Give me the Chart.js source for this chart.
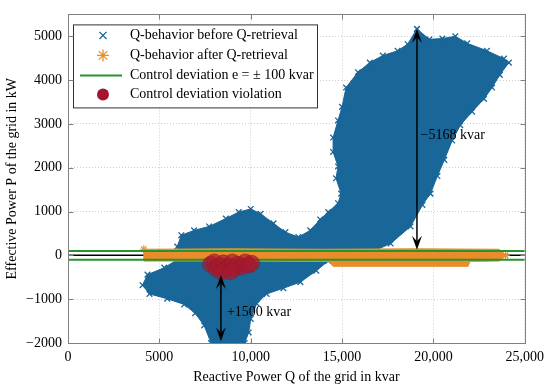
<!DOCTYPE html>
<html><head><meta charset="utf-8">
<script src="https://cdn.jsdelivr.net/npm/chart.js@4/dist/chart.umd.min.js"></script>
<style>html,body{margin:0;padding:0;background:#fff}</style>
</head><body>
<canvas id="c" width="550" height="390"></canvas>
<script>
// ---------- data ----------
const seriesNames = ['Q-behavior before Q-retrieval','Q-behavior after Q-retrieval','Control deviation e = \u00b1 100 kvar','Control deviation violation'];
// outline of the dense cloud of "before" points (kvar, kW)
const beforeQ = [19100,19780,20490,21200,21850,22930,23860,24130,23640,23210,22770,22120,21470,21030,20600,20220,19840,19400,18750,17660,16790,15050,14240,13590,12720,11790,10870,10330,10000,9890,9670,7830,7450,6960,6360,5430,4460,4080,4350,5270,5870,5980,6200,6900,7720,8640,9350,10000,10540,11250,11900,12610,13260,13800,14240,14780,14950,14670,14780,14510,14510,14780,15000,15220,15870,16520,17230,18040,18590,19100];
const beforeP = [5168,4930,4950,5000,4840,4670,4490,4400,4120,3830,3570,3280,2970,2620,2180,1810,1410,1150,660,270,110,0,-130,-350,-610,-750,-880,-1100,-1450,-1760,-2000,-2000,-1600,-1320,-1120,-990,-880,-680,-440,-280,-130,200,460,570,660,840,990,1060,950,730,530,420,570,820,990,1190,1410,1760,2030,2360,2690,3080,3390,3830,4180,4400,4560,4670,4820,5168];
// outline of the "after" band
const afterQ = [4150,9000,14000,19000,23600,23950,23600,22000,21900,18000,14500,14300,9000,4150,4150];
const afterP = [140,150,140,150,140,0,-130,-140,-250,-250,-250,-140,-130,-130,140];
const violationQ = [7800,8000,8100,8300,8500,8600,8800,9000,9100,9300,9500,9700,9900,10050,8400,8900];
const violationP = [-200,-150,-300,-230,-170,-320,-250,-150,-300,-200,-260,-150,-220,-180,-380,-370];
const deviationLimit = 100;
const xRange = [0, 25000];
const yRange = [-2000, 5500];
const xTickValues = [0,5000,10000,15000,20000,25000];
const xTickLabels = ['0','5000','10,000','15,000','20,000','25,000'];
const yTickValues = [-2000,-1000,0,1000,2000,3000,4000,5000];
const yTickLabels = ['\u22122000','\u22121000','0','1000','2000','3000','4000','5000'];
const arrowQ = [19100, 8370];
const arrowFromP = [5168, -1960];
const arrowToP = [130, -450];
const arrowTextQ = [19300, 8700];
const arrowTextP = [2740, -1300];
const arrowLabels = ['\u22125168 kvar', '+1500 kvar'];
const xTitle = 'Reactive Power Q of the grid in kvar';
const yTitle = 'Effective Power P of the grid in kW';

// ---------- styling ----------
const BLUE = '#196699', ORANGE = '#ea8c2c', GREEN = '#27932b', RED = '#a2142f';
const FONT = "'Liberation Serif','DejaVu Serif',serif";
const pts = (xs, ys) => xs.map((v, i) => ({x: v, y: ys[i]}));
// star markers only at the two ends of the band
const afterRadius = afterQ.map((q, i) => (i === 0 || i === 5) ? 4 : 0);

const datasets = [
  {label: seriesNames[3], data: pts(violationQ, violationP), order: 0, showLine: false,
   pointStyle: 'circle', pointRadius: 8, backgroundColor: 'rgba(165,25,45,0.7)', borderColor: 'rgba(150,20,40,0.5)', borderWidth: 1},
  {label: seriesNames[2], data: pts(xRange, [deviationLimit, deviationLimit]), order: 1, showLine: true,
   pointRadius: 0, borderColor: GREEN, borderWidth: 2, fill: false},
  {label: '_', data: pts(xRange, [-deviationLimit, -deviationLimit]), order: 1, showLine: true,
   pointRadius: 0, borderColor: GREEN, borderWidth: 2, fill: false},
  {label: seriesNames[1], data: pts(afterQ, afterP), order: 2, showLine: true, fill: 'shape',
   backgroundColor: ORANGE, borderColor: ORANGE, borderWidth: 1, pointStyle: 'star', pointRadius: afterRadius, pointBorderColor: ORANGE, pointBorderWidth: 1.2},
  {label: '_', data: pts(xRange, [0, 0]), order: 3, showLine: true, pointRadius: 0, borderColor: '#000', borderWidth: 1.5, fill: false},
  {label: seriesNames[0], data: pts(beforeQ, beforeP), order: 4, showLine: true, fill: 'shape',
   backgroundColor: BLUE, borderColor: BLUE, borderWidth: 1, pointStyle: 'crossRot', pointRadius: 4, pointBorderColor: BLUE, pointBorderWidth: 1.3}
];

function arrowHead(ctx, x, y, dir) { // dir: -1 up, +1 down
  const L = 14, W = 5;
  ctx.beginPath();
  ctx.moveTo(x, y);
  ctx.lineTo(x - W, y - dir * L);
  ctx.lineTo(x, y - dir * L * 0.6);
  ctx.lineTo(x + W, y - dir * L);
  ctx.closePath();
  ctx.fill();
}

const annotPlugin = {
  id: 'annot',
  afterDatasetsDraw(chart) {
    const {ctx, chartArea: a, scales: {x, y}} = chart;
    ctx.save();
    ctx.strokeStyle = '#000'; ctx.fillStyle = '#000'; ctx.lineWidth = 1.5;
    arrowQ.forEach((q, i) => {
      const px = x.getPixelForValue(q);
      const p1 = y.getPixelForValue(arrowFromP[i]), p2 = y.getPixelForValue(arrowToP[i]);
      const top = Math.min(p1, p2), bot = Math.max(p1, p2);
      ctx.beginPath(); ctx.moveTo(px, top + 6); ctx.lineTo(px, bot - 6); ctx.stroke();
      arrowHead(ctx, px, top, -1);
      arrowHead(ctx, px, bot, 1);
      ctx.font = '14px ' + FONT; ctx.textAlign = 'left'; ctx.textBaseline = 'middle';
      ctx.fillText(arrowLabels[i], x.getPixelForValue(arrowTextQ[i]), y.getPixelForValue(arrowTextP[i]));
    });
    // legend
    const lx = a.left + 5, ly = a.top + 10, lw = 244, lh = 83;
    ctx.fillStyle = '#fff'; ctx.fillRect(lx, ly, lw, lh);
    ctx.strokeStyle = '#333'; ctx.lineWidth = 1; ctx.strokeRect(lx + 0.5, ly + 0.5, lw, lh);
    const rows = [ly + 11, ly + 31, ly + 51, ly + 70];
    const sx = lx + 30;
    ctx.strokeStyle = BLUE; ctx.lineWidth = 1.3;
    Chart.helpers.drawPoint(ctx, {pointStyle: 'crossRot', radius: 5, borderWidth: 1.3}, sx, rows[0]);
    ctx.strokeStyle = ORANGE;
    Chart.helpers.drawPoint(ctx, {pointStyle: 'star', radius: 6, borderWidth: 1.3}, sx, rows[1]);
    ctx.strokeStyle = GREEN; ctx.lineWidth = 2;
    ctx.beginPath(); ctx.moveTo(lx + 7, rows[2]); ctx.lineTo(lx + 49, rows[2]); ctx.stroke();
    ctx.fillStyle = RED; ctx.beginPath(); ctx.arc(sx, rows[3], 6, 0, Math.PI * 2); ctx.fill();
    ctx.fillStyle = '#000'; ctx.font = '14px ' + FONT; ctx.textAlign = 'left'; ctx.textBaseline = 'middle';
    [0, 1, 2, 3].forEach(i => ctx.fillText(seriesNames[i], lx + 57, rows[i]));
    ctx.restore();
  },
  afterDraw(chart) {
    const {ctx, chartArea: a, scales: {x, y}} = chart;
    ctx.save();
    ctx.strokeStyle = '#808080'; ctx.lineWidth = 1;
    const L = Math.round(a.left) + 0.5, R = Math.round(a.right) + 0.5, T = Math.round(a.top) + 0.5, B = Math.round(a.bottom) + 0.5;
    ctx.strokeRect(L, T, R - L, B - T);
    ctx.beginPath();
    xTickValues.forEach(v => { const p = Math.round(x.getPixelForValue(v)) + 0.5; ctx.moveTo(p, B); ctx.lineTo(p, B - 5); ctx.moveTo(p, T); ctx.lineTo(p, T + 5); });
    yTickValues.forEach(v => { const p = Math.round(y.getPixelForValue(v)) + 0.5; ctx.moveTo(L, p); ctx.lineTo(L + 5, p); ctx.moveTo(R, p); ctx.lineTo(R - 5, p); });
    ctx.stroke();
    ctx.restore();
  }
};

new Chart(document.getElementById('c'), {
  type: 'scatter',
  data: {datasets},
  options: {
    responsive: false, animation: false, devicePixelRatio: 1,
    layout: {padding: {top: 4, right: 22, left: 0, bottom: 0}},
    plugins: {legend: {display: false}, tooltip: {enabled: false}},
    scales: {
      x: {
        type: 'linear', min: xRange[0], max: xRange[1],
        afterBuildTicks: s => { s.ticks = xTickValues.map(v => ({value: v})); },
        afterFit: s => { s.height = 47; },
        ticks: {padding: 6, color: '#000', font: {family: FONT, size: 14}, maxRotation: 0,
                callback: v => xTickLabels[xTickValues.indexOf(v)]},
        grid: {display: true, color: '#cfcfcf', drawTicks: false, lineWidth: 1},
        border: {display: false, dash: [1, 2]},
        title: {display: true, text: xTitle, color: '#000', font: {family: FONT, size: 14}, padding: {top: 4, bottom: 4}}
      },
      y: {
        type: 'linear', min: yRange[0], max: yRange[1],
        afterBuildTicks: s => { s.ticks = yTickValues.map(v => ({value: v})); },
        afterFit: s => { s.width = 68; },
        ticks: {padding: 6, color: '#000', font: {family: FONT, size: 14},
                callback: v => yTickLabels[yTickValues.indexOf(v)]},
        grid: {display: true, color: '#cfcfcf', drawTicks: false, lineWidth: 1},
        border: {display: false, dash: [1, 2]},
        title: {display: true, text: yTitle, color: '#000', font: {family: FONT, size: 14}, padding: {top: 4, bottom: 4}}
      }
    }
  },
  plugins: [annotPlugin]
});
</script>
</body></html>
